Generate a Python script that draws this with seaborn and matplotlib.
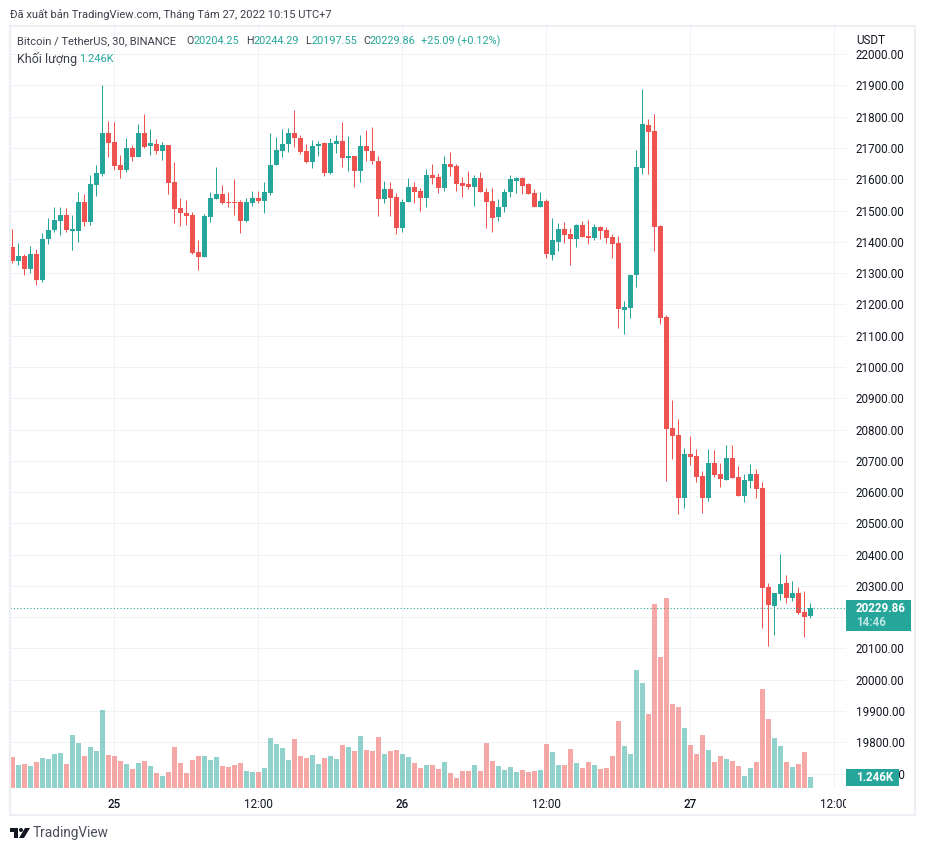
import matplotlib
matplotlib.use('Agg')
import matplotlib.pyplot as plt
from matplotlib.patches import Rectangle, Circle, Polygon
import numpy as np
import seaborn as sns

W, H = 926, 851
GREEN = '#26A69A'
RED = '#EF5350'
GRID = '#F0F2F6'
TEXT = '#131722'

opens = [21383, 21338, 21354, 21313, 21361, 21277, 21409, 21437, 21466, 21485,
         21434, 21434, 21527, 21463, 21581, 21616, 21748, 21719, 21645, 21629,
         21700, 21671, 21748, 21706, 21712, 21690, 21709, 21591, 21508, 21492,
         21485, 21367, 21351, 21479, 21536, 21552, 21527, 21527, 21527, 21466,
         21524, 21540, 21530, 21556, 21645, 21690, 21712, 21747, 21731, 21689,
         21654, 21705, 21715, 21619, 21712, 21721, 21667, 21676, 21628, 21708,
         21692, 21660, 21536, 21568, 21542, 21443, 21526, 21574, 21564, 21539,
         21615, 21609, 21571, 21648, 21644, 21587, 21584, 21574, 21603, 21561,
         21532, 21478, 21510, 21558, 21596, 21603, 21584, 21555, 21513, 21532,
         21357, 21399, 21440, 21425, 21409, 21453, 21418, 21412, 21447, 21437,
         21415, 21396, 21181, 21188, 21293, 21636, 21773, 21754, 21450, 21160,
         20805, 20782, 20581, 20721, 20715, 20651, 20581, 20693, 20658, 20638,
         20709, 20648, 20587, 20635, 20658, 20613, 20297, 20236, 20274, 20310,
         20262, 20278, 20217, 20204.25]
highs = [21441, 21396, 21361, 21386, 21377, 21428, 21476, 21511, 21511, 21508,
         21485, 21559, 21552, 21613, 21645, 21901, 21786, 21783, 21677, 21732,
         21709, 21776, 21808, 21760, 21728, 21719, 21709, 21655, 21540, 21533,
         21495, 21405, 21488, 21559, 21639, 21581, 21559, 21600, 21533, 21540,
         21562, 21562, 21591, 21748, 21735, 21760, 21763, 21823, 21743, 21712,
         21727, 21724, 21718, 21731, 21743, 21782, 21740, 21676, 21743, 21759,
         21766, 21673, 21596, 21590, 21555, 21536, 21603, 21593, 21571, 21632,
         21648, 21619, 21673, 21686, 21648, 21609, 21628, 21615, 21625, 21571,
         21571, 21536, 21568, 21615, 21606, 21609, 21587, 21568, 21561, 21536,
         21476, 21460, 21463, 21444, 21456, 21466, 21469, 21456, 21450, 21447,
         21425, 21418, 21210, 21297, 21693, 21888, 21792, 21808, 21453, 21166,
         20894, 20833, 20741, 20779, 20737, 20667, 20737, 20734, 20693, 20750,
         20750, 20683, 20658, 20690, 20673, 20633, 20310, 20278, 20402, 20335,
         20316, 20297, 20284, 20244.29]
lows = [21332, 21325, 21293, 21300, 21261, 21271, 21393, 21431, 21421, 21431,
        21373, 21399, 21450, 21453, 21546, 21610, 21671, 21629, 21604, 21623,
        21658, 21671, 21700, 21677, 21680, 21661, 21552, 21460, 21450, 21453,
        21361, 21309, 21351, 21463, 21536, 21520, 21511, 21485, 21428, 21463,
        21514, 21524, 21492, 21549, 21645, 21671, 21686, 21702, 21680, 21651,
        21635, 21673, 21612, 21616, 21683, 21641, 21628, 21574, 21593, 21657,
        21648, 21484, 21523, 21484, 21424, 21433, 21526, 21523, 21500, 21513,
        21584, 21555, 21564, 21612, 21564, 21542, 21568, 21516, 21558, 21443,
        21433, 21468, 21497, 21545, 21555, 21552, 21552, 21513, 21513, 21347,
        21341, 21370, 21396, 21325, 21383, 21415, 21393, 21405, 21409, 21396,
        21348, 21124, 21105, 21156, 21255, 21616, 21616, 21370, 21137, 20635,
        20706, 20530, 20549, 20686, 20632, 20533, 20571, 20648, 20616, 20638,
        20645, 20587, 20568, 20613, 20581, 20166, 20108, 20143, 20255, 20246,
        20252, 20211, 20137, 20197.55]
closes = [21338, 21354, 21313, 21361, 21277, 21409, 21437, 21469, 21485, 21437,
          21440, 21527, 21463, 21584, 21620, 21748, 21716, 21642, 21629, 21700,
          21671, 21748, 21703, 21716, 21690, 21709, 21588, 21504, 21492, 21482,
          21364, 21351, 21482, 21540, 21552, 21524, 21524, 21524, 21466, 21527,
          21540, 21530, 21559, 21645, 21693, 21712, 21747, 21731, 21686, 21654,
          21708, 21712, 21619, 21715, 21721, 21667, 21676, 21628, 21708, 21692,
          21657, 21536, 21568, 21539, 21443, 21529, 21574, 21561, 21539, 21615,
          21603, 21571, 21648, 21641, 21584, 21580, 21574, 21603, 21558, 21529,
          21475, 21513, 21561, 21600, 21603, 21580, 21552, 21513, 21532, 21360,
          21405, 21440, 21421, 21409, 21453, 21415, 21412, 21447, 21434, 21412,
          21393, 21185, 21191, 21293, 21639, 21776, 21751, 21447, 21156, 20801,
          20779, 20581, 20721, 20712, 20648, 20581, 20693, 20654, 20642, 20709,
          20645, 20587, 20638, 20658, 20610, 20294, 20239, 20278, 20306, 20262,
          20278, 20214, 20201, 20229.86]
volumes = [3.51, 2.61, 2.72, 2.49, 2.95, 3.40, 3.29, 3.85, 3.96, 2.72,
           6.00, 5.10, 3.62, 4.64, 4.19, 8.84, 3.74, 3.62, 3.06, 2.72,
           2.15, 2.83, 3.06, 2.49, 1.70, 1.36, 1.81, 4.64, 2.83, 1.70,
           3.17, 3.62, 3.62, 3.17, 3.51, 2.49, 2.38, 2.61, 2.83, 1.93,
           1.81, 1.81, 2.27, 5.66, 4.98, 4.53, 3.17, 5.55, 3.62, 3.40,
           3.74, 2.72, 3.40, 3.62, 3.29, 4.87, 4.64, 4.19, 5.89, 4.30,
           4.19, 5.78, 3.85, 4.19, 4.30, 3.85, 3.51, 2.83, 2.27, 2.61,
           2.61, 2.15, 2.95, 1.70, 1.13, 1.93, 1.93, 2.61, 1.93, 5.10,
           3.06, 2.49, 2.04, 2.38, 1.81, 2.04, 1.81, 1.93, 2.04, 4.98,
           4.08, 2.61, 2.61, 4.42, 2.83, 2.27, 2.95, 2.61, 2.15, 2.27,
           3.62, 7.59, 4.76, 3.85, 13.37, 11.89, 8.38, 20.84, 14.84, 21.52,
           9.52, 9.18, 6.80, 4.87, 3.85, 6.00, 4.30, 2.95, 3.62, 3.29,
           3.06, 2.49, 1.36, 2.27, 2.95, 11.21, 7.82, 5.66, 4.76, 2.95,
           2.38, 2.72, 4.08, 1.246]

price_ticks = list(range(19700, 22001, 100))
time_ticks = [17, 41, 65, 89, 113, 137]
time_labels = ['25', '12:00', '26', '12:00', '27', '12:00']
last_price = closes[-1]


def px_axes(x0, y0, x1, y1, **kw):
    # pixel box, y measured from the top of the image
    return fig.add_axes([x0 / W, 1 - y1 / H, (x1 - x0) / W, (y1 - y0) / H], **kw)


def px_text(x, y, s, **kw):
    kw.setdefault('color', TEXT)
    kw.setdefault('fontsize', 8.4)
    kw.setdefault('va', 'center')
    kw.setdefault('zorder', 12)
    return fig.text(x / W, 1 - y / H, s, **kw)


sns.set_theme(style='white')
plt.rcParams['font.family'] = ['Roboto', 'DejaVu Sans']

fig = plt.figure(figsize=(W / 100, H / 100), dpi=100, facecolor='white')
ax = px_axes(10, 27, 846, 788)
ax_vol = ax.twinx()
scale = px_axes(846, 27, 915, 788, zorder=3)

idx = np.arange(len(opens))
opens_a, highs_a, lows_a, closes_a = map(np.array, (opens, highs, lows, closes))
up = closes_a >= opens_a
colors = np.where(up, GREEN, RED)

# volume underneath, price on top
sns.barplot(x=idx, y=volumes, hue=np.where(up, 'up', 'down'),
            palette={'up': GREEN, 'down': RED}, native_scale=True, dodge=False,
            width=0.84, saturation=1, alpha=0.5, linewidth=0, legend=False, ax=ax_vol)
ax_vol.set_ylim(0, 86.2)
ax_vol.axis('off')

ax.vlines(idx, lows_a, highs_a, colors=colors, linewidth=0.72, zorder=3, snap=True)
ax.bar(idx, np.abs(closes_a - opens_a), bottom=np.minimum(opens_a, closes_a),
       width=0.84, color=colors, linewidth=0, zorder=4)
ax.axhline(last_price, color=GREEN, linewidth=0.8, linestyle=(0, (1, 2)), zorder=5)

# exactly six pixels per bar
x_left = (10 - 12.33) / 6
ax.set_xlim(x_left, x_left + 836 / 6)
ax.set_ylim(19654, 22087)
ax.set_yticks(price_ticks)
ax.tick_params(axis='y', left=False, labelleft=False)
ax.set_xticks(time_ticks)
ax.set_xticklabels(time_labels, fontsize=8.4, color=TEXT)
ax.tick_params(axis='x', length=0, pad=7)
for lab in ax.get_xticklabels():
    if ':' not in lab.get_text():
        lab.set_fontweight('medium')
ax.grid(True, color=GRID, linewidth=0.72)
ax.set_axisbelow(True)
for s in ax.spines.values():
    s.set_visible(False)

scale.set_ylim(ax.get_ylim())
scale.set_xticks([])
# 20200 sits behind the last-price tag, so it gets no label
scale_ticks = [p for p in price_ticks if p != 20200]
scale.set_yticks(scale_ticks)
scale.set_yticklabels([f'{p:.2f}' for p in scale_ticks], fontsize=8.4, color=TEXT, ha='left')
scale.tick_params(axis='y', length=0, pad=-7.2)
for s in scale.spines.values():
    s.set_visible(False)

# the scale column also cuts off the last time label
fig.add_artist(Rectangle((846 / W, 1 - 815 / H), 69 / W, 27 / H, transform=fig.transFigure,
                         color='white', linewidth=0, zorder=5))
# outer frame
fig.add_artist(Rectangle((10 / W, 1 - 815 / H), 905 / W, 789 / H, transform=fig.transFigure,
                         fill=False, edgecolor='#EEEFF4', linewidth=1.6, zorder=6))

# header
px_text(10, 14, 'Đã xuất bản TradingView.com, Tháng Tám 27, 2022 10:15 UTC+7', color='#3b3f4a', fontsize=8.05)
px_text(856, 41, 'USDT')
px_text(17, 41, 'Bitcoin / TetherUS, 30, BINANCE', color='#3b3f4a', fontsize=8.05)
for x, s in [(186, 'O'), (246, 'H'), (305, 'L'), (363, 'C')]:
    px_text(x, 41, s, color='#3b3f4a', fontsize=7.7)
for x, s in [(193, '20204.25'), (253, '20244.29'), (311, '20197.55'), (369, '20229.86'),
             (421, '+25.09 (+0.12%)')]:
    px_text(x, 41, s, color=GREEN, fontsize=7.8)
px_text(17, 59, 'Khối lượng', color='#3b3f4a', fontsize=9)
px_text(79, 59, '1.246K', color=GREEN, fontsize=7.9)

# price and volume tags on the scale
fig.add_artist(Rectangle((846 / W, 1 - 631 / H), 65 / W, 31 / H, transform=fig.transFigure,
                         color=GREEN, linewidth=0, zorder=10))
px_text(856, 608, '20229.86', color='white', fontweight='bold')
px_text(856, 623, '14:46', color='#BFE6E2', fontweight='bold')
fig.add_artist(Rectangle((846 / W, 1 - 786 / H), 53 / W, 17 / H, transform=fig.transFigure,
                         color=GREEN, linewidth=0, zorder=10))
px_text(856, 777.5, '1.246K', color='white', fontweight='bold')

# footer logo
logo = px_axes(10, 827, 30, 839, zorder=4)
logo.set_xlim(0, 20)
logo.set_ylim(12, 0)
logo.axis('off')
logo.add_patch(Polygon([(0, 1), (8, 1), (8, 11), (4, 11), (4, 5), (0, 5)], color=TEXT, linewidth=0))
logo.add_patch(Circle((11, 3), 2, color=TEXT, linewidth=0))
logo.add_patch(Polygon([(15, 1), (20, 1), (14, 11), (9, 11)], color=TEXT, linewidth=0))
px_text(33, 833.5, 'TradingView', color='#4A4E59', fontsize=9.8)

fig.savefig('out.png', dpi=100)
